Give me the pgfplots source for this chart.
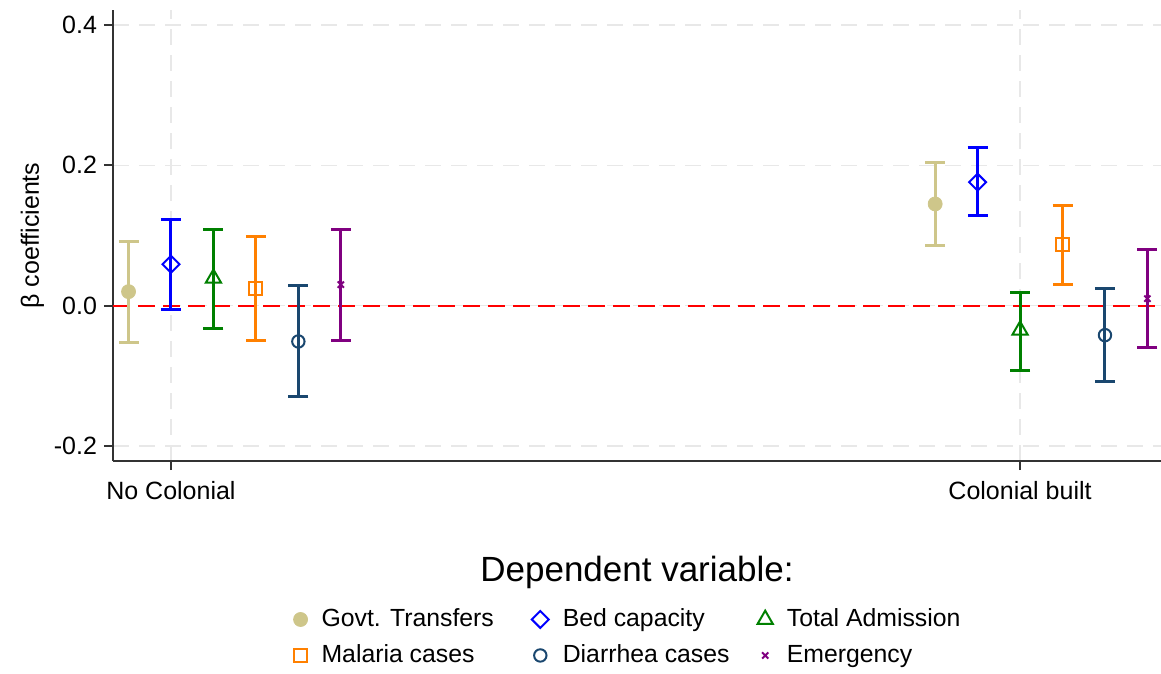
\documentclass[border=0pt]{standalone}
\usepackage{fontspec}
\setmainfont{Liberation Sans}
\usepackage{pgfplots}
\pgfplotsset{compat=1.18}
\usepackage{pgfplotstable}
\usetikzlibrary{calc}

\definecolor{sand}{HTML}{CEC68A}
\definecolor{bedblue}{HTML}{0000FF}
\definecolor{admgreen}{HTML}{008000}
\definecolor{malorange}{HTML}{FF8000}
\definecolor{navy}{HTML}{1A476F}
\definecolor{emgpurple}{HTML}{800080}
\definecolor{gridgray}{HTML}{E8E8E8}

% x  coef  lo  hi
\pgfplotstableread{
x    y      lo      hi
0.95 0.020  -0.053  0.091
1.90 0.145   0.086  0.204
}\govt
\pgfplotstableread{
x    y      lo      hi
1.00 0.059  -0.006  0.123
1.95 0.176   0.128  0.225
}\bed
\pgfplotstableread{
x    y      lo      hi
1.05 0.039  -0.033  0.109
2.00 -0.035 -0.092  0.019
}\admis
\pgfplotstableread{
x    y      lo      hi
1.10 0.024  -0.049  0.099
2.05 0.087   0.030  0.143
}\malaria
\pgfplotstableread{
x    y      lo      hi
1.15 -0.051 -0.130  0.029
2.10 -0.042 -0.108  0.025
}\diarr
\pgfplotstableread{
x    y      lo      hi
1.20 0.030  -0.049  0.109
2.15 0.010  -0.060  0.080
}\emerg

\pgfplotsset{
  ci/.style={
    only marks,
    error bars/y dir=both,
    error bars/y explicit,
    error bars/error bar style={line width=1.5pt, solid},
    error bars/error mark options={rotate=90, mark size=5pt, line width=1.5pt, solid},
  },
}

\begin{document}
\begin{tikzpicture}
\begin{axis}[
  name=ax,
  scale only axis,
  width=524pt, height=225.5pt,
  xmin=0.9317, xmax=2.166,
  ymin=-0.2214, ymax=0.4214,
  axis x line*=bottom, axis y line*=left,
  axis line style={line width=1pt, color=black!80},
  xtick={1,2}, xticklabels={No Colonial, Colonial built},
  ytick={-0.2,0,0.2,0.4},
  yticklabels={-0.2,0.0,0.2,0.4},
  tick align=outside,
  major tick length=4.5pt,
  tick style={line width=1pt, color=black!80},
  ticklabel style={font=\fontsize{12.5}{14}\selectfont},
  xticklabel style={yshift=-2pt},
  /pgf/number format/assume math mode=true,
  grid=major,
  major grid style={gridgray, line width=0.8pt, dash pattern=on 8pt off 5pt},
  ylabel={β coefficients},
  ylabel style={font=\fontsize{12.5}{14}\selectfont, yshift=-2pt},
  xlabel={Dependent variable:},
  xlabel style={font=\fontsize{17.5}{20}\selectfont, yshift=-21.5pt},
  legend columns=3,
  legend style={
    at={(0.4924,-0.3095)}, anchor=north,
    draw=none, fill=none,
    font=\fontsize{12.4}{14}\selectfont,
    /tikz/every odd column/.append style={column sep=5pt},
    /tikz/column 2/.style={column sep=17pt},
    /tikz/column 4/.style={column sep=12pt},
    row sep=3.5pt,
  },
  legend cell align=left,
  clip=false,
]
\addplot[red, line width=1pt, dash pattern=on 8.5pt off 4pt, forget plot]
  coordinates {(0.9317,0) (2.166,0)};

\addplot[ci, color=sand, mark=*, mark size=3.5pt, mark options={solid, fill=sand}]
  table[x=x, y=y, y error plus expr=\thisrow{hi}-\thisrow{y}, y error minus expr=\thisrow{y}-\thisrow{lo}] {\govt};
\addlegendentry{Govt. Transfers}
\addplot[ci, color=bedblue, mark=square, mark size=3pt, mark options={solid, rotate=45, line width=1pt, fill=white}]
  table[x=x, y=y, y error plus expr=\thisrow{hi}-\thisrow{y}, y error minus expr=\thisrow{y}-\thisrow{lo}] {\bed};
\addlegendentry{Bed capacity}
\addplot[ci, color=admgreen, mark=triangle, mark size=4.4pt, mark options={solid, line width=1pt, fill=white}]
  table[x=x, y=y, y error plus expr=\thisrow{hi}-\thisrow{y}, y error minus expr=\thisrow{y}-\thisrow{lo}] {\admis};
\addlegendentry{Total Admission}
\addplot[ci, color=malorange, mark=square, mark size=3.2pt, mark options={solid, line width=1pt, fill=white}]
  table[x=x, y=y, y error plus expr=\thisrow{hi}-\thisrow{y}, y error minus expr=\thisrow{y}-\thisrow{lo}] {\malaria};
\addlegendentry{Malaria cases}
\addplot[ci, color=navy, mark=o, mark size=3.1pt, mark options={solid, line width=1pt, fill=white}]
  table[x=x, y=y, y error plus expr=\thisrow{hi}-\thisrow{y}, y error minus expr=\thisrow{y}-\thisrow{lo}] {\diarr};
\addlegendentry{Diarrhea cases}
\addplot[ci, color=emgpurple, mark=x, mark size=2.2pt, mark options={solid, line width=1pt}]
  table[x=x, y=y, y error plus expr=\thisrow{hi}-\thisrow{y}, y error minus expr=\thisrow{y}-\thisrow{lo}] {\emerg};
\addlegendentry{Emergency}
\end{axis}
\pgfresetboundingbox
\path ($(ax.south west)+(-56.5pt,-106pt)$) rectangle ($(ax.north east)+(0pt,5pt)$);
\end{tikzpicture}
\end{document}
